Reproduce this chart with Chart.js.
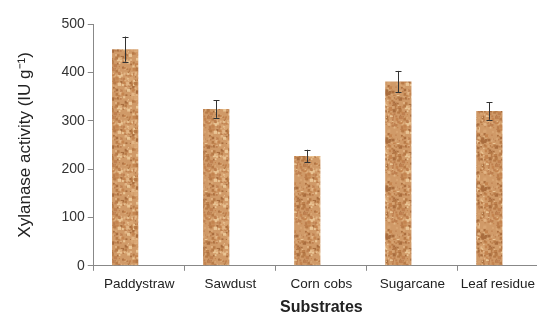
<!DOCTYPE html>
<html>
<head>
<meta charset="utf-8">
<script src="https://cdn.jsdelivr.net/npm/chart.js@4"></script>
<style>
  html, body { margin: 0; padding: 0; background: #fff; overflow: hidden; }
  #chart { display: block; }
</style>
</head>
<body>
<canvas id="chart" width="552" height="313"></canvas>
<script>
// data
const substrates = ['Paddystraw', 'Sawdust', 'Corn cobs', 'Sugarcane', 'Leaf residue'];
const activity = [448, 324, 227, 381, 320];
const activityErr = [26, 18, 13, 22, 18];
const yTicks = [0, 100, 200, 300, 400, 500];

// cork-like texture for the bars
function corkPattern(ctx) {
    const c = document.createElement('canvas');
    c.width = 48; c.height = 48;
    const g = c.getContext('2d');
    g.fillStyle = '#d09a68';
    g.fillRect(0, 0, 48, 48);
    let seed = 7;
    const rnd = () => { seed = (seed * 16807) % 2147483647; return seed / 2147483647; };
    const cols = ['#b77a47', '#c4844f', '#e2b585', '#eac595', '#a96d3e', '#d8a573', '#bf8050'];
    for (let i = 0; i < 380; i++) {
        g.fillStyle = cols[Math.floor(rnd() * cols.length)];
        const s = 1 + rnd() * 2.5;
        g.fillRect(rnd() * 48, rnd() * 48, s, s);
    }
    return ctx.createPattern(c, 'repeat');
}

const errorBars = {
    id: 'errorBars',
    afterDatasetsDraw(chart) {
        const ctx = chart.ctx;
        const y = chart.scales.y;
        const meta = chart.getDatasetMeta(0);
        ctx.save();
        ctx.strokeStyle = '#333';
        ctx.lineWidth = 1;
        meta.data.forEach((bar, i) => {
            const top = y.getPixelForValue(activity[i] + activityErr[i]);
            const bot = y.getPixelForValue(activity[i] - activityErr[i]);
            const x = Math.round(bar.x) + 0.5;
            ctx.beginPath();
            ctx.moveTo(x, top); ctx.lineTo(x, bot);
            ctx.moveTo(x - 3, Math.round(top) + 0.5); ctx.lineTo(x + 3, Math.round(top) + 0.5);
            ctx.moveTo(x - 3, Math.round(bot) + 0.5); ctx.lineTo(x + 3, Math.round(bot) + 0.5);
            ctx.stroke();
        });
        ctx.restore();
    }
};

const chart = document.querySelector('#chart').getContext('2d');

new Chart(chart, {
    type: 'bar',
    data: {
        labels: substrates,
        datasets: [
            {
                label: 'Xylanase activity',
                data: activity,
                backgroundColor: corkPattern(chart),
                borderWidth: 0
            },
            {
                // empty second slot, as in the original spreadsheet chart
                label: '',
                data: substrates.map(() => null),
                backgroundColor: 'rgba(0,0,0,0)'
            }
        ]
    },
    options: {
        responsive: false,
        animation: false,
        categoryPercentage: 0.62,
        barPercentage: 0.93,
        layout: { padding: { top: 24, right: 3, left: 0, bottom: -3 } },
        plugins: {
            legend: { display: false },
            tooltip: { enabled: false }
        },
        scales: {
            x: {
                grid: { drawOnChartArea: false, tickLength: 5, color: '#888' },
                border: { color: '#888' },
                ticks: {
                    color: '#222', font: { family: 'Arial', size: 13.5 }, padding: 5, maxRotation: 0,
                    // last label sits a little left so it stays on the page
                    callback: (v, i) => i === substrates.length - 1 ? substrates[i] + '   ' : substrates[i]
                },
                title: { display: true, text: 'Substrates', color: '#222', font: { family: 'Arial', size: 16, weight: 'bold', lineHeight: 1 }, padding: { top: 3, bottom: 0 } }
            },
            y: {
                min: 0,
                max: 500,
                afterBuildTicks: (axis) => { axis.ticks = yTicks.map(v => ({ value: v })); },
                grid: { drawOnChartArea: false, tickLength: 6, color: '#888' },
                border: { color: '#888' },
                ticks: { color: '#333', font: { family: 'Arial', size: 14 }, padding: 3 },
                title: { display: true, text: 'Xylanase activity (IU g\u207B\u00B9)', color: '#222', font: { family: 'Arial', size: 17 }, padding: { top: 15, bottom: 23 } }
            }
        }
    },
    plugins: [errorBars]
});
</script>
</body>
</html>
